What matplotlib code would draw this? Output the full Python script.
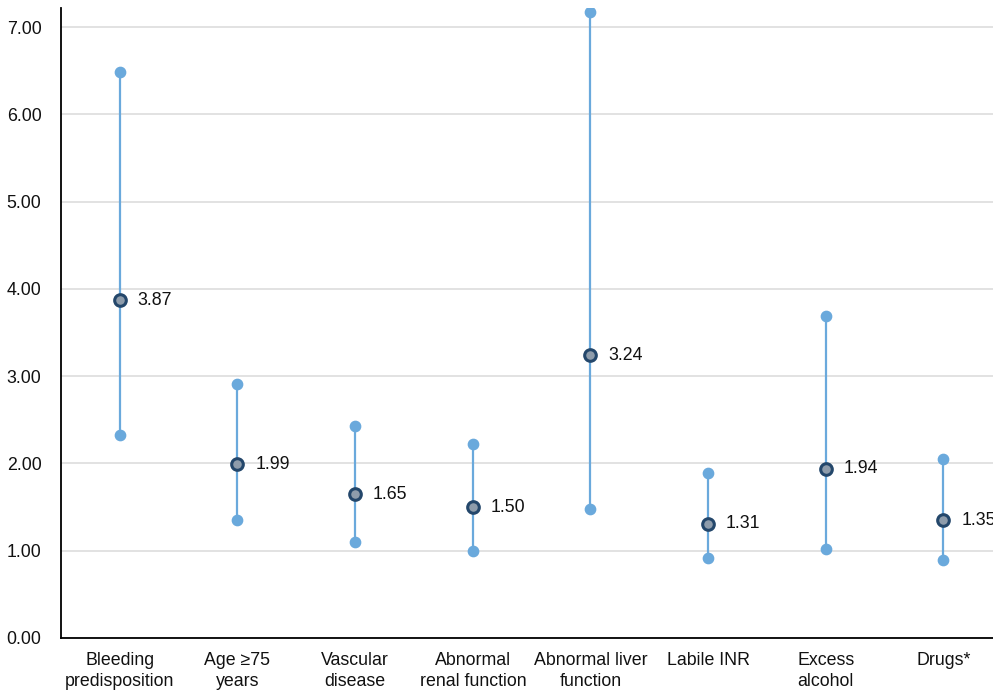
import matplotlib
matplotlib.use("Agg")
import matplotlib.pyplot as plt

plt.rcParams['font.family'] = ['Liberation Sans', 'DejaVu Sans']

categories = ["Bleeding\npredisposition", "Age \u226575\nyears", "Vascular\ndisease",
              "Abnormal\nrenal function", "Abnormal liver\nfunction", "Labile INR",
              "Excess\nalcohol", "Drugs*"]
odds_ratio = [3.87, 1.99, 1.65, 1.50, 3.24, 1.31, 1.94, 1.35]
ci_lower = [2.33, 1.35, 1.10, 1.00, 1.48, 0.92, 1.02, 0.89]
ci_upper = [6.49, 2.91, 2.43, 2.22, 7.17, 1.89, 3.69, 2.05]
y_ticks = [0, 1, 2, 3, 4, 5, 6, 7]

line_color = "#6aa9dc"

fig = plt.figure(figsize=(9.93, 6.93), dpi=100)
ax = fig.add_axes([0.0614, 0.0794, 0.948, 0.909])

x = list(range(len(categories)))
for i in x:
    ax.plot([i, i], [ci_lower[i], ci_upper[i]], color=line_color, lw=1.6, zorder=2)
ax.scatter(x, ci_lower, s=55, color=line_color, zorder=3)
ax.scatter(x, ci_upper, s=55, color=line_color, zorder=3)
ax.scatter(x, odds_ratio, s=70, facecolor="#8e9cab", edgecolor="#24476b", linewidth=2.2, zorder=4)

for i in x:
    ax.text(i + 0.15, odds_ratio[i], f"{odds_ratio[i]:.2f}", va="center", ha="left",
            fontsize=12.8, color="#111111", zorder=5, clip_on=False)

ax.set_xlim(-0.5, 7.5)
ax.set_ylim(0, 7.22)
ax.set_yticks(y_ticks)
ax.set_yticklabels([f"{v:.2f}" for v in y_ticks])
ax.set_xticks(x)
ax.set_xticklabels(categories, linespacing=1.3)
ax.tick_params(axis='both', length=0, labelsize=12.8, colors="#111111")
ax.tick_params(axis='y', pad=14)
ax.tick_params(axis='x', pad=10)
ax.grid(axis='y', color="#dddddd", lw=1.2)
ax.set_axisbelow(True)
for s in ["top", "right"]:
    ax.spines[s].set_visible(False)
ax.spines["left"].set_linewidth(1.3)
ax.spines["bottom"].set_linewidth(1.3)

fig.savefig("out.png", dpi=100)
